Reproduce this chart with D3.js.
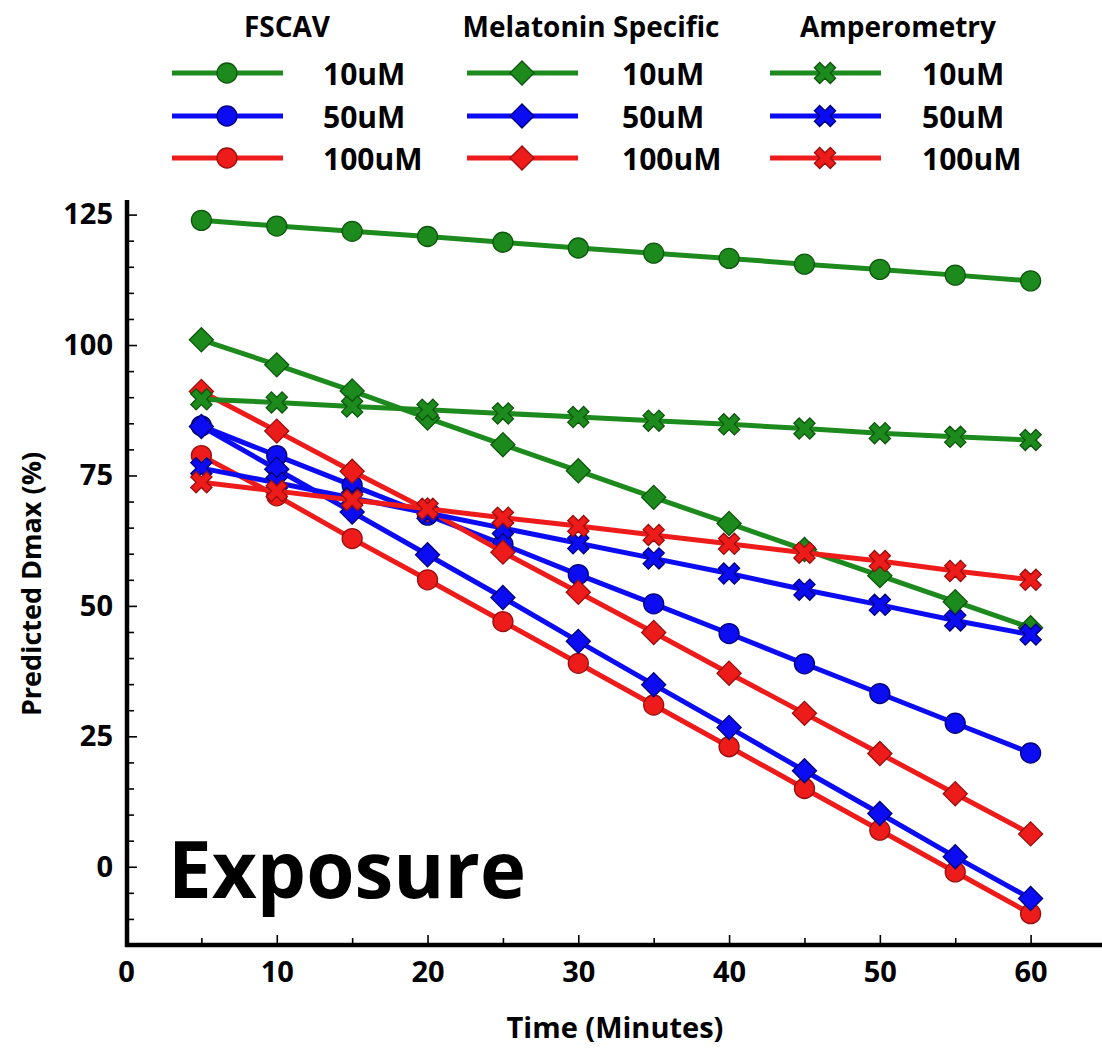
<!DOCTYPE html>
<html>
<head>
<meta charset="utf-8">
<script src="https://cdn.jsdelivr.net/npm/d3@7"></script>
<style>
  html, body { margin: 0; padding: 0; background: #fff; }
  svg { display: block; }
  text { font-family: "Open Sans", Lato, sans-serif; font-weight: bold; fill: #000; }
</style>
</head>
<body>
<svg id="chart" width="1102" height="1048"></svg>
<script>
// Sampling times (minutes)
const times = [5, 10, 15, 20, 25, 30, 35, 40, 45, 50, 55, 60];

// Predicted Dmax (%) per method and concentration
const fscav10  = [123.9, 122.8, 121.8, 120.8, 119.7, 118.6, 117.6, 116.6, 115.5, 114.5, 113.4, 112.3];
const fscav50  = [84.5, 78.8, 73.1, 67.4, 61.8, 56.0, 50.4, 44.7, 38.9, 33.2, 27.5, 21.8];
const fscav100 = [78.8, 71.1, 62.9, 55.0, 47.0, 39.0, 31.0, 23.0, 15.0, 7.0, -1.0, -9.0];

const mel10  = [101.0, 96.2, 91.2, 86.0, 80.9, 75.9, 70.8, 65.8, 60.8, 55.8, 50.8, 45.8];
const mel50  = [84.4, 76.2, 68.0, 59.8, 51.6, 43.2, 34.9, 26.7, 18.4, 10.2, 1.9, -6.1];
const mel100 = [91.1, 83.5, 75.8, 68.4, 60.3, 52.6, 44.9, 37.1, 29.4, 21.7, 14.0, 6.3];

const amp10  = [89.6, 89.0, 88.2, 87.6, 86.9, 86.2, 85.5, 84.8, 84.0, 83.1, 82.4, 81.8];
const amp50  = [76.4, 73.6, 70.7, 67.8, 64.9, 62.0, 59.1, 56.2, 53.1, 50.2, 47.2, 44.5];
const amp100 = [73.7, 72.0, 70.3, 68.6, 66.9, 65.3, 63.6, 61.9, 60.2, 58.6, 56.7, 55.0];

// Legend / series structure
const methods = ["FSCAV", "Melatonin Specific", "Amperometry"];
const concentrations = ["10uM", "50uM", "100uM"];
const seriesValues = [
  [fscav10, fscav50, fscav100],
  [mel10, mel50, mel100],
  [amp10, amp50, amp100]
];

// Axis ticks
const xMajorTicks = [0, 10, 20, 30, 40, 50, 60];
const xMinorTicks = [5, 15, 25, 35, 45, 55];
const yMajorTicks = [0, 25, 50, 75, 100, 125];
const yMinorTicks = [-10, -5, 5, 10, 15, 20, 30, 35, 40, 45, 55, 60, 65, 70, 80, 85, 90, 95, 105, 110, 115, 120];

const colors = ["#1c8a1c", "#0c0cf2", "#ee1b1b"];
const outlines = ["#0d560d", "#00007a", "#9a0e0e"];
const shapes = ["circle", "diamond", "cross"];

const svg = d3.select("#chart");

const x = d3.scaleLinear().domain([0, 65]).range([126, 1106]);
const y = d3.scaleLinear().domain([-15, 127.8]).range([945, 200]);

// Marker factory
function marker(sel, shape, fill, stroke) {
  if (shape === "circle") {
    sel.append("circle").attr("r", 10)
      .attr("fill", fill).attr("stroke", stroke).attr("stroke-width", 1.3);
  } else if (shape === "diamond") {
    sel.append("path").attr("d", d3.symbol().type(d3.symbolSquare).size(290)())
      .attr("transform", "rotate(45)")
      .attr("fill", fill).attr("stroke", stroke).attr("stroke-width", 1.3);
  } else {
    sel.append("path").attr("d", d3.symbol().type(d3.symbolCross).size(280)())
      .attr("transform", "rotate(45)")
      .attr("fill", fill).attr("stroke", stroke).attr("stroke-width", 1.3);
  }
}

// Axes
const yAxisMajor = d3.axisLeft(y).tickValues(yMajorTicks).tickSizeInner(-10).tickSizeOuter(0).tickPadding(14);
const yAxisMinor = d3.axisLeft(y).tickValues(yMinorTicks).tickSizeInner(-7).tickSizeOuter(0).tickFormat("");
const xAxisMajor = d3.axisBottom(x).tickValues(xMajorTicks).tickSizeInner(-10).tickSizeOuter(0).tickPadding(16);
const xAxisMinor = d3.axisBottom(x).tickValues(xMinorTicks).tickSizeInner(-7).tickSizeOuter(0).tickFormat("");

function styleAxis(g, fontSize) {
  g.select(".domain").remove();
  g.selectAll(".tick line").attr("stroke", "#000").attr("stroke-width", 1.6);
  g.selectAll(".tick text").style("font-size", fontSize + "px").style("font-family", "'Open Sans', Lato, sans-serif").style("font-weight", "bold");
}

const axX = 127;
const axY = 945;

svg.append("g").attr("transform", `translate(${axX},0)`).call(yAxisMinor).call(g => styleAxis(g, 29));
svg.append("g").attr("transform", `translate(${axX},0)`).call(yAxisMajor).call(g => styleAxis(g, 29));
svg.append("g").attr("transform", `translate(0,${axY})`).call(xAxisMinor).call(g => styleAxis(g, 29));
const gx = svg.append("g").attr("transform", `translate(0,${axY})`).call(xAxisMajor).call(g => styleAxis(g, 29));
gx.selectAll(".tick").filter(d => d === 0).select("line").remove();

// Axis lines
svg.append("line").attr("x1", axX).attr("x2", axX).attr("y1", y(127.8)).attr("y2", axY + 2)
  .attr("stroke", "#000").attr("stroke-width", 4.5);
svg.append("line").attr("x1", axX - 2).attr("x2", 1102).attr("y1", axY).attr("y2", axY)
  .attr("stroke", "#000").attr("stroke-width", 4.5);

// Axis titles
svg.append("text")
  .attr("transform", "translate(30,584) rotate(-90)")
  .attr("text-anchor", "middle").attr("dominant-baseline", "central")
  .style("font-size", "27px")
  .text("Predicted Dmax (%)");
svg.append("text")
  .attr("x", 615).attr("y", 1026)
  .attr("text-anchor", "middle").attr("dominant-baseline", "central")
  .style("font-size", "29px")
  .text("Time (Minutes)");

// Panel label
svg.append("text")
  .attr("x", 168).attr("y", 898)
  .style("font-size", "78px")
  .text("Exposure");

// Series
const line = d3.line().x(d => x(d[0])).y(d => y(d[1]));
const plot = svg.append("g");
methods.forEach((m, mi) => {
  concentrations.forEach((c, ci) => {
    const pts = times.map((t, i) => [t, seriesValues[mi][ci][i]]);
    const g = plot.append("g");
    g.append("path").datum(pts).attr("d", line)
      .attr("fill", "none").attr("stroke", colors[ci]).attr("stroke-width", 5).attr("stroke-linejoin", "round");
    g.selectAll("g.pt").data(pts).join("g").attr("class", "pt")
      .attr("transform", d => `translate(${x(d[0])},${y(d[1])})`)
      .each(function () { marker(d3.select(this), shapes[mi], colors[ci], outlines[ci]); });
  });
});

// Legend
const legendLineX = [172, 467, 770];
const legendLabelX = [323, 622, 922];
const legendHeaderX = [287, 591, 898];
const legendRowY = [73, 116, 158];
const legend = svg.append("g");
methods.forEach((m, mi) => {
  legend.append("text")
    .attr("x", legendHeaderX[mi]).attr("y", 26)
    .attr("text-anchor", "middle").attr("dominant-baseline", "central")
    .style("font-size", "28px").text(m);
  concentrations.forEach((c, ci) => {
    const ly = legendRowY[ci];
    legend.append("line")
      .attr("x1", legendLineX[mi]).attr("x2", legendLineX[mi] + 111)
      .attr("y1", ly).attr("y2", ly)
      .attr("stroke", colors[ci]).attr("stroke-width", 5);
    const mg = legend.append("g").attr("transform", `translate(${legendLineX[mi] + 55},${ly})`);
    marker(mg, shapes[mi], colors[ci], outlines[ci]);
    legend.append("text")
      .attr("x", legendLabelX[mi]).attr("y", ly)
      .attr("dominant-baseline", "central")
      .style("font-size", "30px").text(c);
  });
});
</script>
</body>
</html>
